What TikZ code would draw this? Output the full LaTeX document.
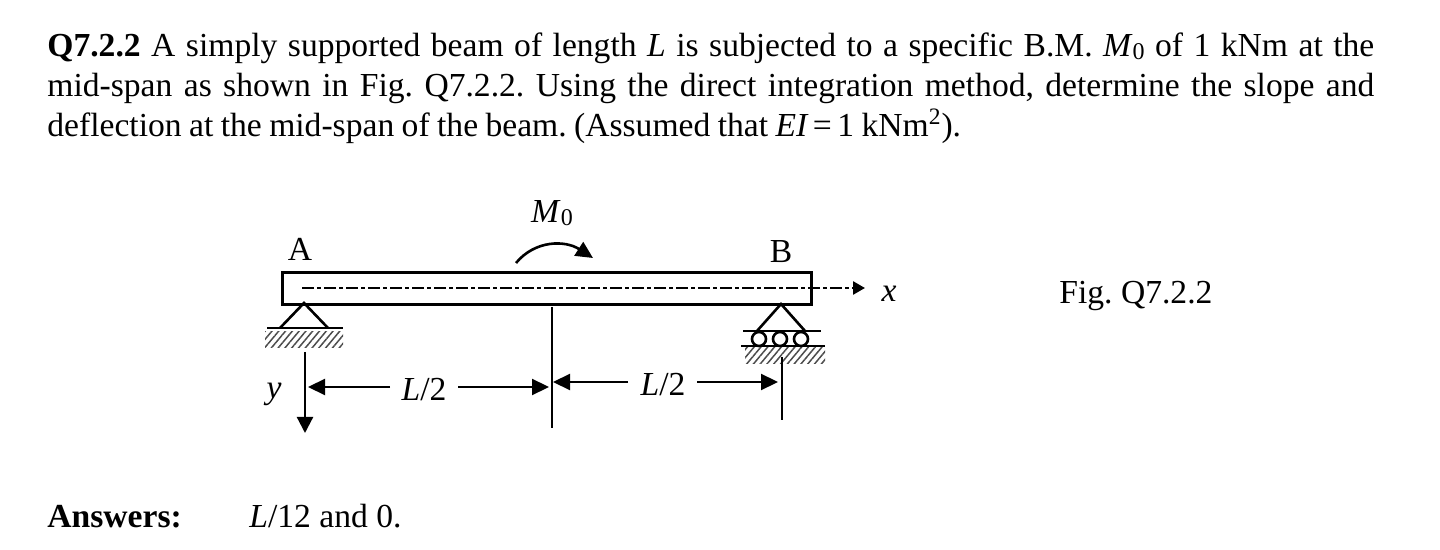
\documentclass[tikz,border=0pt]{standalone}
\usepackage{fontspec}
\setmainfont{Liberation Serif}
\usetikzlibrary{arrows.meta,patterns.meta}
\frenchspacing
\newcommand{\subzero}{\raisebox{-1.2pt}{\fontsize{12}{12}\selectfont 0}}

\tikzset{
    every node/.style={font=\fontsize{16.8}{20}\selectfont, inner sep=0pt},
    thick line/.style={line width=1.3pt},
    thin line/.style={line width=1.1pt},
    hatch/.style={pattern={Lines[angle=50,distance=2.6pt,line width=0.75pt]}, pattern color=black!70},
    dim arrow/.style={line width=1.1pt, -{Triangle[length=8.5pt,width=8pt]}},
    axis line/.style={line width=1.3pt, dash pattern=on 6pt off 1.6pt on 1.8pt off 1.6pt, -{Triangle[length=6pt,width=6.5pt]}}
}

\begin{document}
\begin{tikzpicture}[x=0.5pt,y=-0.5pt]
    \useasboundingbox (0,0) rectangle (1440,550);

    \node[anchor=base west, text width=663.5pt, align=justify] (question) at (47,57)
        {\spaceskip=3.7pt plus 3pt\textbf{Q7.2.2} A simply supported beam of length \textit{L} is subjected to a specific B.M. \textit{M}\subzero{} of 1 kNm at the\linebreak
        mid-span as shown in Fig. Q7.2.2. Using the direct integration method, determine the slope and\linebreak
        deflection at the mid-span of the beam. (Assumed that \textit{EI\,}=\,1 kNm\textsuperscript{2}).};

    % beam
    \node[draw, thick line, minimum width=264.5pt, minimum height=16pt, anchor=north west] (beam) at (281,271) {};
    \coordinate (axisstart) at (302,288);
    \coordinate (axisend) at (865,288);
    \draw[axis line] (axisstart) -- (axisend);
    \node (labelA) at (300,249) {A};
    \node (labelB) at (781,252) {B};
    \node (labelx) at (889,294) {\textit{x}};

    % moment
    \node (labelM) at (552,213) {\textit{M}\subzero};
    \coordinate (momentstart) at (516,263);
    \coordinate (momentend) at (593,258);
    \draw[thick line, -{Triangle[length=8.5pt,width=8pt]}] (momentstart) .. controls (535,240) and (565,240) .. (momentend);

    % support A
    \coordinate (pinA) at (304,303);
    \coordinate (baseAl) at (280,328);
    \coordinate (baseAr) at (328,328);
    \coordinate (groundAl) at (267,328);
    \coordinate (groundAr) at (343,328);
    \draw[thick line] (baseAl) -- (pinA) -- (baseAr);
    \draw[thick line] (groundAl) -- (groundAr);
    \fill[hatch] (265,332) rectangle (343,348);

    % support B
    \coordinate (pinB) at (781,304);
    \coordinate (baseBl) at (757,331);
    \coordinate (baseBr) at (805,331);
    \coordinate (plateBl) at (743,331);
    \coordinate (plateBr) at (821,331);
    \coordinate (groundBl) at (741,346);
    \coordinate (groundBr) at (825,346);
    \fill[hatch] (745,348) rectangle (825,364);
    \draw[thick line] (baseBl) -- (pinB) -- (baseBr);
    \draw[thick line] (plateBl) -- (plateBr);
    \foreach \x in {759,780,801}
        \draw[thick line] (\x,339) circle (3.5pt);
    \draw[thick line] (groundBl) -- (groundBr);

    % y axis
    \coordinate (ystart) at (305,352);
    \coordinate (yend) at (305,433);
    \draw[line width=1.1pt, -{Triangle[length=8pt,width=8pt]}] (ystart) -- (yend);
    \node (labely) at (274,394) {\textit{y}};

    % dimensions
    \coordinate (midtop) at (552,307);
    \coordinate (midbot) at (552,428);
    \coordinate (righttop) at (782,357);
    \coordinate (rightbot) at (782,420);
    \draw[thin line] (midtop) -- (midbot);
    \draw[thin line] (righttop) -- (rightbot);
    \node (dimleft) at (424,390) {\textit{L}/2};
    \node (dimright) at (663,385) {\textit{L}/2};
    \coordinate (tipA) at (308,387);
    \coordinate (tipmidl) at (549,387);
    \coordinate (tipmidr) at (553,382);
    \coordinate (tipB) at (778,382);
    \draw[dim arrow] (390,387) -- (tipA);
    \draw[dim arrow] (458,387) -- (tipmidl);
    \draw[dim arrow] (628,382) -- (tipmidr);
    \draw[dim arrow] (697,382) -- (tipB);

    \node[anchor=base west] (figlabel) at (1059,304) {Fig. Q7.2.2};
    \node[anchor=base west] (answers) at (47,527) {\textbf{Answers:}};
    \node[anchor=base west] (answertext) at (249,527) {\textit{L}/12 and 0.};
\end{tikzpicture}
\end{document}
